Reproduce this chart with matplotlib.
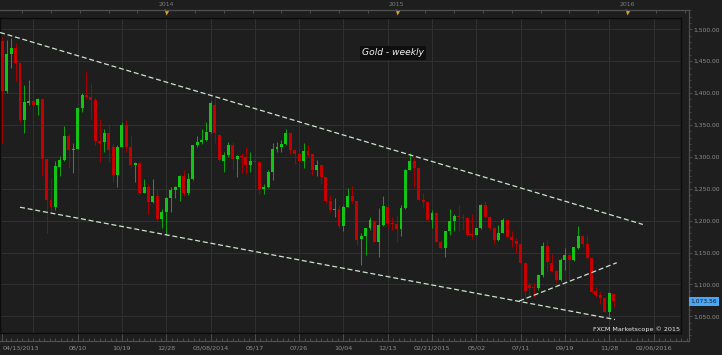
import numpy as np
import matplotlib
matplotlib.use("Agg")
import matplotlib.pyplot as plt
from matplotlib.ticker import FixedLocator, MultipleLocator, FuncFormatter
from matplotlib.transforms import blended_transform_factory

# weekly candles, first one dated 04/13/2013, one per week
opens = [1482, 1403, 1461, 1470, 1447, 1358, 1385, 1388, 1382, 1390,
         1296, 1233, 1222, 1284, 1295, 1332, 1311, 1313, 1377, 1397,
         1394, 1389, 1325, 1324, 1337, 1315, 1272, 1316, 1350, 1316,
         1287, 1290, 1244, 1252, 1229, 1238, 1202, 1213, 1236, 1248,
         1253, 1270, 1244, 1266, 1319, 1324, 1326, 1339, 1382, 1334,
         1294, 1303, 1319, 1296, 1301, 1299, 1287, 1293, 1292, 1249,
         1253, 1276, 1313, 1316, 1320, 1337, 1310, 1305, 1293, 1309,
         1304, 1280, 1287, 1268, 1230, 1216, 1218, 1191, 1222, 1238,
         1230, 1171, 1176, 1188, 1200, 1167, 1193, 1222, 1196, 1195,
         1187, 1220, 1280, 1293, 1283, 1233, 1229, 1201, 1212, 1167,
         1157, 1183, 1199, 1207, 1206, 1204, 1179, 1178, 1188, 1224,
         1206, 1189, 1169, 1180, 1201, 1174, 1168, 1163, 1133, 1099,
         1096, 1094, 1114, 1160, 1134, 1121, 1107, 1139, 1146, 1138,
         1157, 1176, 1163, 1141, 1089, 1084, 1078, 1057, 1085]
highs = [1488, 1484, 1486, 1478, 1448, 1413, 1421, 1424, 1392, 1392,
         1297, 1267, 1293, 1301, 1348, 1336, 1322, 1378, 1400, 1434,
         1415, 1392, 1360, 1343, 1351, 1321, 1318, 1355, 1358, 1334,
         1292, 1292, 1266, 1258, 1266, 1250, 1219, 1237, 1253, 1255,
         1272, 1279, 1274, 1319, 1332, 1343, 1354, 1387, 1392, 1336,
         1308, 1324, 1324, 1303, 1306, 1315, 1308, 1306, 1294, 1257,
         1279, 1321, 1324, 1327, 1344, 1338, 1312, 1311, 1321, 1318,
         1305, 1295, 1288, 1269, 1240, 1235, 1225, 1225, 1251, 1255,
         1231, 1180, 1189, 1206, 1201, 1220, 1238, 1223, 1206, 1209,
         1224, 1281, 1306, 1298, 1284, 1243, 1230, 1217, 1213, 1169,
         1183, 1219, 1211, 1224, 1210, 1206, 1210, 1189, 1226, 1231,
         1207, 1190, 1193, 1204, 1202, 1183, 1172, 1164, 1134, 1104,
         1102, 1117, 1167, 1170, 1147, 1122, 1142, 1157, 1147, 1159,
         1191, 1177, 1177, 1142, 1096, 1090, 1079, 1088, 1086]
lows = [1322, 1400, 1440, 1419, 1355, 1337, 1381, 1374, 1366, 1270,
        1181, 1212, 1216, 1270, 1294, 1283, 1274, 1312, 1370, 1390,
        1360, 1319, 1292, 1307, 1292, 1261, 1252, 1315, 1308, 1282,
        1261, 1243, 1243, 1211, 1227, 1198, 1188, 1177, 1214, 1235,
        1231, 1239, 1240, 1264, 1315, 1320, 1325, 1338, 1321, 1294,
        1277, 1299, 1281, 1269, 1274, 1273, 1277, 1284, 1242, 1242,
        1251, 1264, 1307, 1308, 1318, 1304, 1289, 1280, 1282, 1300,
        1272, 1270, 1258, 1228, 1214, 1206, 1188, 1183, 1221, 1227,
        1162, 1131, 1146, 1186, 1166, 1143, 1192, 1188, 1185, 1167,
        1176, 1218, 1279, 1252, 1232, 1222, 1199, 1188, 1166, 1156,
        1143, 1178, 1183, 1183, 1185, 1176, 1171, 1177, 1187, 1204,
        1185, 1163, 1168, 1180, 1172, 1159, 1149, 1130, 1081, 1081,
        1081, 1092, 1112, 1119, 1119, 1104, 1106, 1123, 1107, 1136,
        1156, 1159, 1140, 1086, 1081, 1070, 1056, 1049, 1065]
closes = [1403, 1461, 1470, 1447, 1358, 1386, 1388, 1382, 1390, 1296,
          1233, 1222, 1285, 1295, 1332, 1311, 1313, 1377, 1397, 1394,
          1389, 1325, 1322, 1337, 1311, 1272, 1316, 1350, 1316, 1287,
          1290, 1244, 1252, 1229, 1238, 1202, 1213, 1236, 1248, 1253,
          1270, 1244, 1266, 1319, 1324, 1326, 1339, 1384, 1337, 1295,
          1303, 1319, 1296, 1301, 1299, 1287, 1293, 1292, 1249, 1253,
          1276, 1313, 1316, 1320, 1337, 1310, 1305, 1293, 1309, 1303,
          1280, 1287, 1268, 1230, 1216, 1218, 1191, 1222, 1238, 1230,
          1170, 1176, 1188, 1201, 1167, 1193, 1223, 1196, 1194, 1187,
          1220, 1280, 1294, 1283, 1233, 1229, 1201, 1212, 1167, 1157,
          1183, 1199, 1207, 1206, 1204, 1178, 1177, 1188, 1224, 1205,
          1189, 1170, 1181, 1201, 1175, 1170, 1163, 1134, 1089, 1095,
          1094, 1115, 1160, 1135, 1121, 1107, 1139, 1146, 1138, 1158,
          1176, 1164, 1141, 1088, 1084, 1078, 1057, 1086, 1073.56]

# date labels (week index -> label)
tick_weeks = [0, 17, 27, 37, 47, 57, 67, 77, 87, 97, 107, 117, 127, 137, 147]
tick_labels = ['04/13/2013', '08/10', '10/19', '12/28', '03/08/2014', '05/17',
               '07/26', '10/04', '12/13', '02/21/2015', '05/02', '07/11',
               '09/19', '11/28', '02/06/2016']
year_weeks = [37, 89, 141]
year_labels = ['2014', '2015', '2016']

# trend lines drawn on the chart (week index, price)
upper_x, upper_y = [-0.5, 144.6], [1495, 1194]
lower_x, lower_y = [4.0, 138.3], [1221, 1045]
support_x, support_y = [116.7, 138.7], [1074, 1134]

last_price = 1073.56

BG = '#1e1e1e'
GRID = '#303030'
FRAME = '#4e4e4e'
TXT = '#8e8e8e'
UP, DOWN = '#14c414', '#c60000'
UP_W, DOWN_W = '#0f9f0f', '#a50000'

W, H = 722, 355
fig = plt.figure(figsize=(W / 100, H / 100), dpi=100, facecolor=BG)

# outer frame with the scales
ax_out = fig.add_axes([0, 1 - 340.7 / H, 689 / W, (340.7 - 10) / H])
ax_out.set_facecolor('none')
ax_out.set_xlim(-0.52, 155.0)
ax_out.set_ylim(1011.7, 1530.3)

# main chart area
ax = fig.add_axes([0, 1 - 333 / H, 681 / W, (333 - 17.5) / H], zorder=ax_out.get_zorder() + 1)
ax.set_facecolor(BG)
ax.set_xlim(-0.52, 153.2)
ax.set_ylim(1023.8, 1518.5)

x = np.arange(len(opens))
o = np.array(opens)
c = np.array(closes)
up = c >= o
body_lo = np.minimum(o, c)
body_h = np.maximum(np.abs(c - o), 1.2)

ax.vlines(x[up], np.array(lows)[up], np.array(highs)[up], color=UP_W, lw=0.75, zorder=3)
ax.vlines(x[~up], np.array(lows)[~up], np.array(highs)[~up], color=DOWN_W, lw=0.75, zorder=3)
ax.bar(x[up], body_h[up], bottom=body_lo[up], width=0.66, color=UP, lw=0, zorder=4)
ax.bar(x[~up], body_h[~up], bottom=body_lo[~up], width=0.66, color=DOWN, lw=0, zorder=4)

for tx, ty in [(upper_x, upper_y), (lower_x, lower_y), (support_x, support_y)]:
    ax.plot(tx, ty, color='#cce4cc', lw=0.9, ls=(0, (4, 2.2)), zorder=5)

# grid
ax.set_xticks(np.arange(7, 155, 10))
ax.set_yticks(np.arange(1050, 1550, 50))
ax.grid(True, color=GRID, lw=0.8)
ax.set_axisbelow(True)
ax.tick_params(length=0, labelbottom=False, labelleft=False)
for s in ax.spines.values():
    s.set_color('#0c0c0c')
    s.set_linewidth(1.0)

ax.text(0.577, 0.8875, 'Gold - weekly', transform=ax.transAxes, ha='center', va='center',
        fontsize=6.6, style='italic', color='#f2f2f2',
        bbox=dict(boxstyle='square,pad=0.25', fc='#0e0e0e', ec='none'), zorder=6)
ax.text(0.998, 0.012, 'FXCM Marketscope \u00a9 2015', transform=ax.transAxes, ha='right',
        va='center', fontsize=4.6, color='#e8e8e8', zorder=6)

# outer frame ticks
for side in ['top', 'right', 'bottom']:
    ax_out.spines[side].set_color(FRAME)
    ax_out.spines[side].set_linewidth(0.9)
ax_out.spines['left'].set_visible(False)

ax_out.xaxis.set_major_locator(FixedLocator(tick_weeks))
ax_out.set_xticklabels(tick_labels)
ax_out.xaxis.set_minor_locator(FixedLocator(np.arange(7 - 1.25 * 5, 156, 1.25)))
ax_out.tick_params(axis='x', which='major', direction='in', length=5.5, width=0.7,
                   color=FRAME, labelsize=4.6, labelcolor=TXT, pad=3.2)
ax_out.tick_params(axis='x', which='minor', direction='in', length=2.4, width=0.7, color=FRAME)
ax_out.get_xticklabels()[0].set_ha('left')

ax_out.yaxis.tick_right()
ax_out.yaxis.set_major_locator(FixedLocator(np.arange(1050, 1550, 50)))
ax_out.yaxis.set_minor_locator(MultipleLocator(10))
ax_out.yaxis.set_major_formatter(FuncFormatter(lambda v, p: f'{v:,.2f}'))
ax_out.tick_params(axis='y', which='major', direction='out', length=2.2, width=0.7,
                   color=FRAME, labelsize=4.3, labelcolor=TXT, pad=0.6)
ax_out.tick_params(axis='y', which='minor', direction='out', length=1.6, width=0.6, color=FRAME)

# top strip: ticks every 6.5 weeks, year markers
top = ax_out.secondary_xaxis('top')
top.spines['top'].set_visible(False)
top.xaxis.set_major_locator(FixedLocator(np.arange(37 - 6.5 * 5, 156, 6.5)))
top.tick_params(axis='x', direction='in', length=2.4, width=0.7, color=FRAME, labeltop=False)

tr = blended_transform_factory(ax_out.transData, ax_out.transAxes)
for wk, lab in zip(year_weeks, year_labels):
    ax_out.text(wk, 1.0155, lab, transform=tr, ha='center', va='center',
                fontsize=4.4, color='#7c7c7c', clip_on=False)
    ax_out.plot([wk], [0.9925], marker='v', ms=3.6, color='#d9a01c', mec='none',
                transform=tr, clip_on=False)

# last price box
trp = blended_transform_factory(ax_out.transAxes, ax_out.transData)
ax_out.text(1.0025, last_price, f'{last_price:,.2f}', transform=trp, ha='left', va='center',
            fontsize=4.3, color='#101820', clip_on=False, zorder=7,
            bbox=dict(boxstyle='square,pad=0.3', fc='#4aa6f7', ec='none'))

fig.savefig('out.png', dpi=100, facecolor=BG)
